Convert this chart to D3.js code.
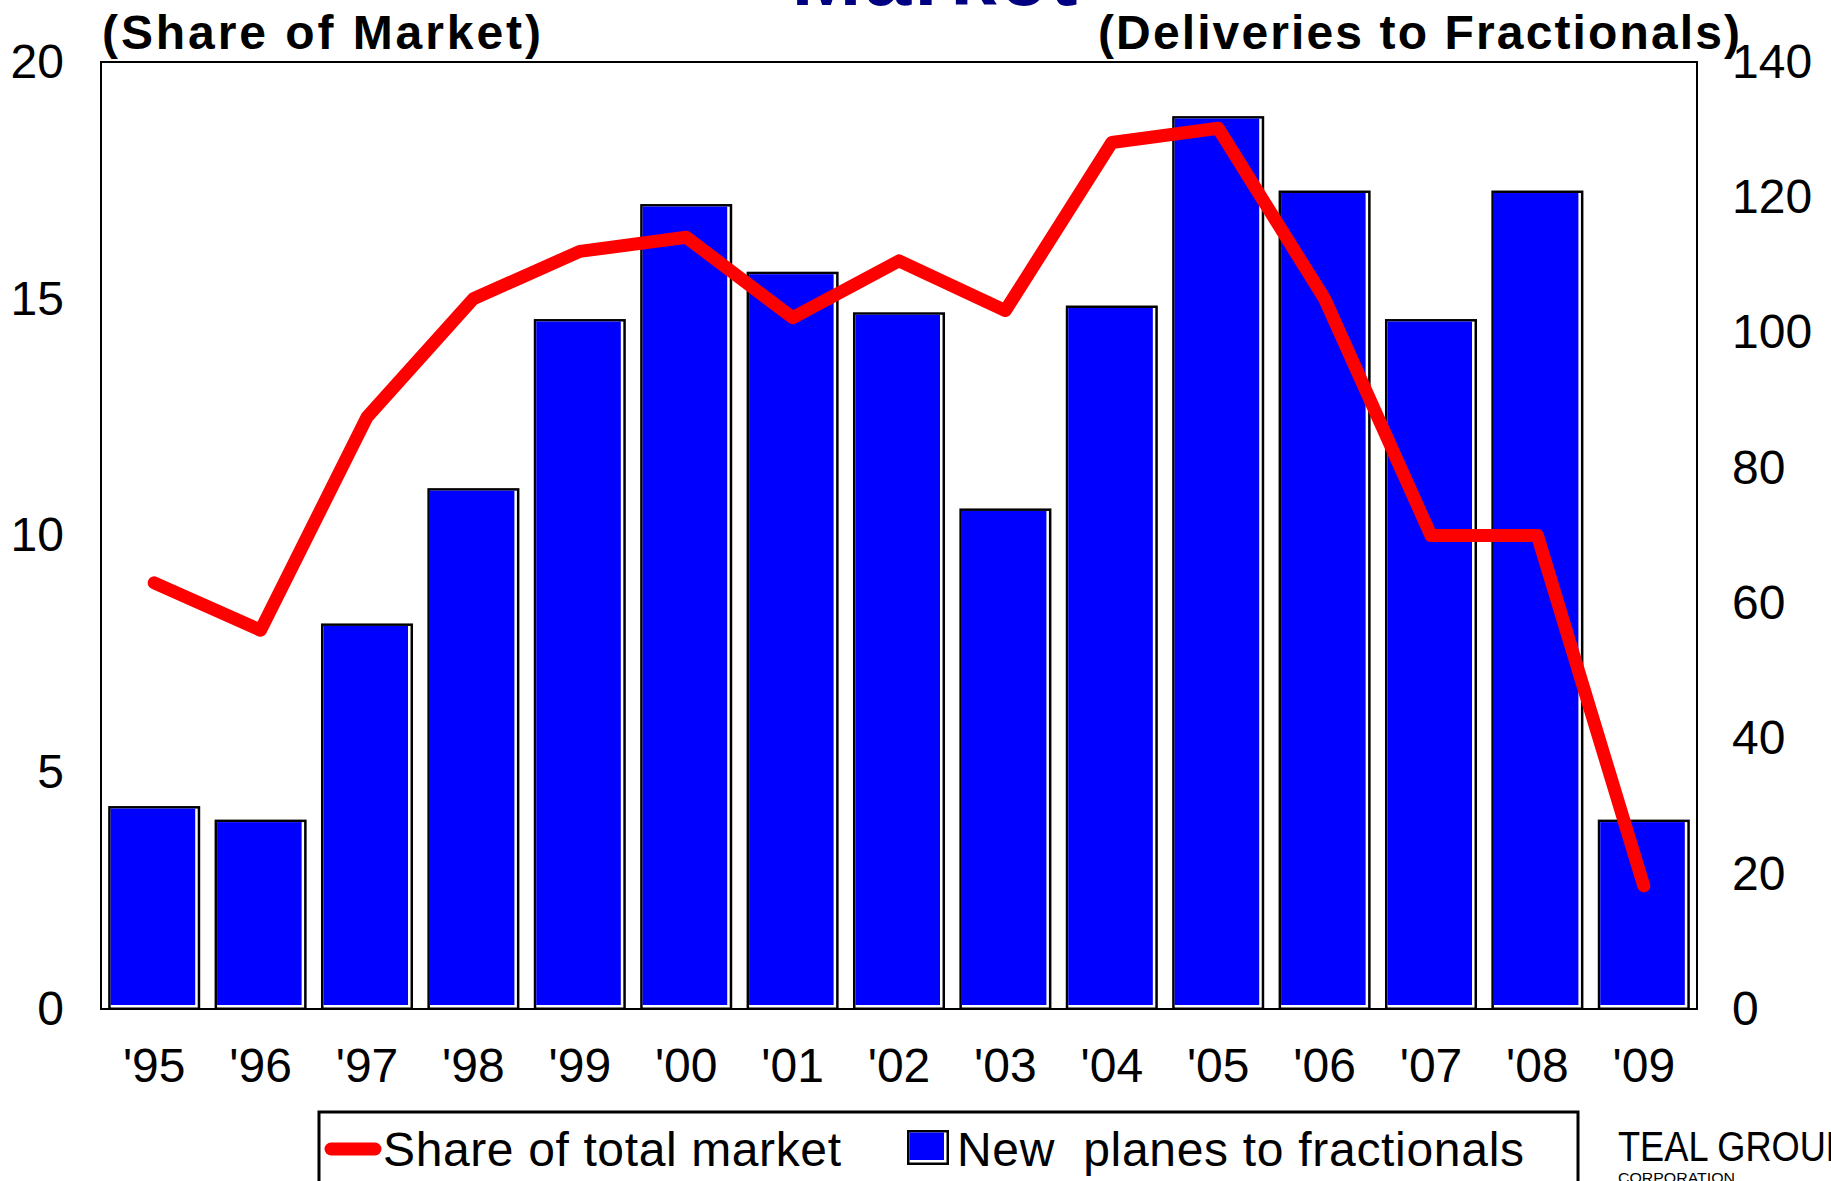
<!DOCTYPE html>
<html>
<head>
<meta charset="utf-8">
<script src="https://cdn.jsdelivr.net/npm/d3@7"></script>
<style>
  html, body { margin: 0; padding: 0; background: #ffffff; }
  svg { display: block; }
  text { font-family: "Liberation Sans", Arial, sans-serif; }
</style>
</head>
<body>
<script>
// ---- data ----
const years = ["'95","'96","'97","'98","'99","'00","'01","'02","'03","'04","'05","'06","'07","'08","'09"];
const shareOfMarket = [9.0, 8.0, 12.5, 15.0, 16.0, 16.3, 14.6, 15.8, 14.75, 18.3, 18.6, 15.0, 10.0, 10.0, 2.6];
const deliveries = [30, 28, 57, 77, 102, 119, 109, 103, 74, 104, 132, 121, 102, 121, 28];
const leftTicks = [0, 5, 10, 15, 20];
const rightTicks = [0, 20, 40, 60, 80, 100, 120, 140];
const titleText = "Market";
const leftAxisTitle = "(Share of Market)";
const rightAxisTitle = "(Deliveries to Fractionals)";
const legendLine = "Share of total market";
const legendBar = "New  planes to fractionals";

// ---- layout ----
const W = 1831, H = 1181;
const plot = { left: 101, right: 1697, top: 62, bottom: 1009 };

const svg = d3.select("body").append("svg").attr("width", W).attr("height", H);
svg.append("rect").attr("width", W).attr("height", H).attr("fill", "#fff");

const x = d3.scaleBand().domain(years).range([plot.left, plot.right]).paddingInner(0.135).paddingOuter(0.0675);
const yL = d3.scaleLinear().domain([0, 20]).range([plot.bottom, plot.top]);
const yR = d3.scaleLinear().domain([0, 140]).range([plot.bottom, plot.top]);

// title (cut off at top)
svg.append("text").attr("x", 936).attr("y", 5).attr("text-anchor", "middle")
  .attr("font-size", 84).attr("font-weight", "bold").attr("fill", "#000080")
  .attr("letter-spacing", 3).text(titleText);

// axis titles
svg.append("text").attr("x", 102).attr("y", 49).attr("font-size", 48).attr("font-weight", "bold")
  .attr("textLength", 439).attr("lengthAdjust", "spacing").text(leftAxisTitle);
svg.append("text").attr("x", 1098).attr("y", 49).attr("font-size", 48).attr("font-weight", "bold")
  .attr("textLength", 642).attr("lengthAdjust", "spacing").text(rightAxisTitle);

// bars
const bars = svg.append("g");
const bw = x.bandwidth();
deliveries.forEach((v, i) => {
  const bx = x(years[i]), by = yR(v), bh = plot.bottom + 1 - by;
  bars.append("rect").attr("x", bx).attr("y", by).attr("width", bw).attr("height", bh).attr("fill", "#000");
  bars.append("rect").attr("x", bx + 2.5).attr("y", by + 2.5).attr("width", bw - 5).attr("height", bh - 5).attr("fill", "#fff");
  bars.append("rect").attr("x", bx + 2.5).attr("y", by + 2.5).attr("width", bw - 7.5).attr("height", bh - 7.5).attr("fill", "#0000ff");
});

// plot frame
svg.append("rect").attr("x", plot.left).attr("y", plot.top)
  .attr("width", plot.right - plot.left).attr("height", plot.bottom - plot.top)
  .attr("fill", "none").attr("stroke", "#000").attr("stroke-width", 2);

// line
const line = d3.line().x((d, i) => x(years[i]) + bw / 2).y(d => yL(d));
svg.append("path").datum(shareOfMarket).attr("d", line)
  .attr("fill", "none").attr("stroke", "#ff0000").attr("stroke-width", 13)
  .attr("stroke-linejoin", "round").attr("stroke-linecap", "round");

// axes
function styleAxis(g) {
  g.select(".domain").remove();
  g.selectAll(".tick line").remove();
  g.selectAll("text").attr("font-size", 48).attr("fill", "#000")
    .attr("font-family", "'Liberation Sans', Arial, sans-serif");
}
svg.append("g").attr("transform", `translate(${plot.left},0)`)
  .call(d3.axisLeft(yL).tickValues(leftTicks).tickSize(0).tickPadding(37)).call(styleAxis);
svg.append("g").attr("transform", `translate(${plot.right},0)`)
  .call(d3.axisRight(yR).tickValues(rightTicks).tickSize(0).tickPadding(35)).call(styleAxis);
svg.append("g").attr("transform", `translate(0,${plot.bottom})`)
  .call(d3.axisBottom(x).tickSize(0).tickPadding(39)).call(styleAxis);

// legend
const lg = svg.append("g");
lg.append("rect").attr("x", 319).attr("y", 1112).attr("width", 1259).attr("height", 100)
  .attr("fill", "#fff").attr("stroke", "#000").attr("stroke-width", 3);
lg.append("line").attr("x1", 331).attr("x2", 375).attr("y1", 1149).attr("y2", 1149)
  .attr("stroke", "#ff0000").attr("stroke-width", 13).attr("stroke-linecap", "round");
lg.append("text").attr("x", 383).attr("y", 1166).attr("font-size", 48)
  .attr("textLength", 458).attr("lengthAdjust", "spacing").style("white-space", "pre").text(legendLine);
lg.append("rect").attr("x", 907).attr("y", 1130).attr("width", 42).attr("height", 35).attr("fill", "#000");
lg.append("rect").attr("x", 909.5).attr("y", 1132.5).attr("width", 37).attr("height", 30).attr("fill", "#fff");
lg.append("rect").attr("x", 909.5).attr("y", 1132.5).attr("width", 34.5).attr("height", 27.5).attr("fill", "#0000ff");
lg.append("text").attr("x", 957).attr("y", 1166).attr("font-size", 48)
  .attr("textLength", 567).attr("lengthAdjust", "spacing").style("white-space", "pre").text(legendBar);

// logo
svg.append("text").attr("x", 1618).attr("y", 1161).attr("font-size", 43)
  .attr("textLength", 232).attr("lengthAdjust", "spacingAndGlyphs")
  .text("TEAL GROUP");
svg.append("text").attr("x", 1618).attr("y", 1183).attr("font-size", 15.5)
  .attr("textLength", 117).attr("lengthAdjust", "spacingAndGlyphs").text("CORPORATION");
</script>
</body>
</html>
